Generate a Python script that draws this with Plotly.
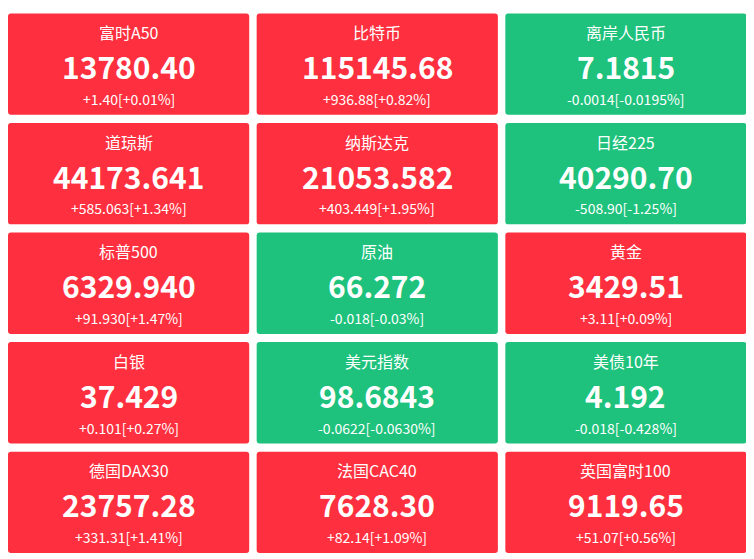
import plotly.graph_objects as go

names = ["富时A50", "比特币", "离岸人民币", "道琼斯", "纳斯达克", "日经225",
         "标普500", "原油", "黄金", "白银", "美元指数", "美债10年",
         "德国DAX30", "法国CAC40", "英国富时100"]
prices = ["13780.40", "115145.68", "7.1815", "44173.641", "21053.582", "40290.70",
          "6329.940", "66.272", "3429.51", "37.429", "98.6843", "4.192",
          "23757.28", "7628.30", "9119.65"]
changes = ["+1.40[+0.01%]", "+936.88[+0.82%]", "-0.0014[-0.0195%]",
           "+585.063[+1.34%]", "+403.449[+1.95%]", "-508.90[-1.25%]",
           "+91.930[+1.47%]", "-0.018[-0.03%]", "+3.11[+0.09%]",
           "+0.101[+0.27%]", "-0.0622[-0.0630%]", "-0.018[-0.428%]",
           "+331.31[+1.41%]", "+82.14[+1.09%]", "+51.07[+0.56%]"]

RED = "#fe2f3e"
GREEN = "#1ec27c"
FONT = "Noto Sans CJK SC, Open Sans, sans-serif"


def rounded(x0, y0, x1, y1, r=0.012):
    ry = r * 2.25
    return (f"M {x0+r},{y0} L {x1-r},{y0} Q {x1},{y0} {x1},{y0+ry} "
            f"L {x1},{y1-ry} Q {x1},{y1} {x1-r},{y1} L {x0+r},{y1} "
            f"Q {x0},{y1} {x0},{y1-ry} L {x0},{y0+ry} Q {x0},{y0} {x0+r},{y0} Z")


fig = go.Figure()
shapes = []
annotations = []
for i, name in enumerate(names):
    col, row = i % 3, i // 3
    color = GREEN if changes[i].startswith("-") else RED
    x0, x1 = col, col + 0.97
    y0, y1 = row, row + 0.925
    shapes.append(dict(type="path", path=rounded(x0, y0, x1, y1),
                       fillcolor=color, line_width=0, layer="below"))
    cx = col + 0.485
    annotations.append(dict(x=cx, y=row + 0.17, text=name, showarrow=False,
                            font=dict(family=FONT, size=16, color="white")))
    annotations.append(dict(x=cx, y=row + 0.48, text="<b>" + prices[i] + "</b>", showarrow=False,
                            font=dict(family=FONT, size=30, color="white")))
    annotations.append(dict(x=cx, y=row + 0.78, text=changes[i], showarrow=False,
                            font=dict(family=FONT, size=14, color="white")))

fig.update_layout(
    width=746, height=551,
    margin=dict(l=0, r=0, t=0, b=0),
    paper_bgcolor="white", plot_bgcolor="white",
    xaxis=dict(range=[0, 3.0], visible=False, fixedrange=True),
    yaxis=dict(range=[4.98, -0.05], visible=False, fixedrange=True),
    shapes=shapes, annotations=annotations, showlegend=False,
)
fig.write_html("out.html")
